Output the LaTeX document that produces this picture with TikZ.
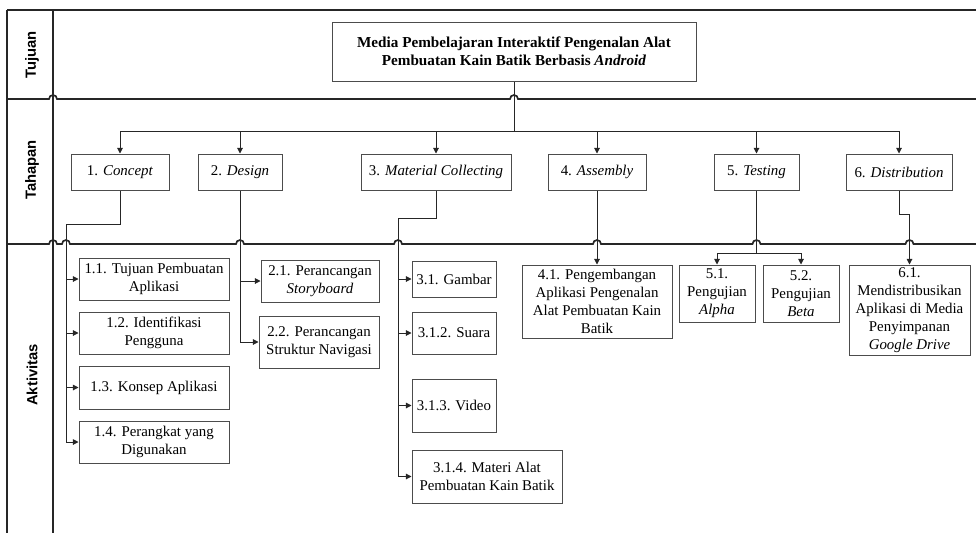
\documentclass[tikz,border=0pt]{standalone}
\usepackage{fontspec}
\setmainfont{Liberation Serif}
\setsansfont{Liberation Sans}
\usetikzlibrary{arrows.meta}
\pgfdeclarelayer{edgelayer}
\pgfdeclarelayer{nodelayer}
\pgfsetlayers{edgelayer,nodelayer,main}
\tikzset{font=\fontsize{10.6}{12.9}\selectfont}
\tikzstyle{none}=[inner sep=0pt]
\tikzstyle{lane}=[rotate=90,font=\sffamily\bfseries\fontsize{10.5}{12}\selectfont]
\tikzstyle{box}=[draw=black!70,rectangle,align=center,inner sep=1pt,line width=0.7pt]
\tikzstyle{goal}=[box,font=\bfseries\fontsize{10.8}{13}\selectfont]
\tikzstyle{phase}=[box,minimum height=0.9cm]
\tikzstyle{wire}=[draw=black!85,line width=0.7pt]
\tikzstyle{arrow}=[wire,-{Triangle[length=4pt,width=4pt]}]
\tikzstyle{border}=[draw=black!85,line width=1.2pt]

\begin{document}
\begin{tikzpicture}
	\useasboundingbox (0, 0) rectangle (24.4, -13.3);
	\begin{pgfonlayer}{nodelayer}
		\node [style=lane] (0) at (0.8, -1.38) {Tujuan};
		\node [style=lane] (1) at (0.8, -4.25) {Tahapan};
		\node [style=lane] (2) at (0.8, -9.375) {Aktivitas};
		\node [style=goal, minimum width=9.1cm, minimum height=1.475cm] (3) at (12.85, -1.2875) {Media Pembelajaran Interaktif Pengenalan Alat\\Pembuatan Kain Batik Berbasis \textit{Android}};
		\node [style=phase, minimum width=2.45cm] (4) at (3, -4.3) {1. \textit{Concept}};
		\node [style=phase, minimum width=2.1cm] (5) at (6, -4.3) {2. \textit{Design}};
		\node [style=phase, minimum width=3.75cm] (6) at (10.9, -4.3) {3. \textit{Material Collecting}};
		\node [style=phase, minimum width=2.45cm] (7) at (14.925, -4.3) {4. \textit{Assembly}};
		\node [style=phase, minimum width=2.125cm] (8) at (18.9125, -4.3) {5. \textit{Testing}};
		\node [style=phase, minimum width=2.65cm] (9) at (22.475, -4.3) {6. \textit{Distribution}};
		\node [style=box, minimum width=3.75cm, minimum height=1.05cm] (10) at (3.85, -6.975) {1.1. Tujuan Pembuatan\\Aplikasi};
		\node [style=box, minimum width=3.75cm, minimum height=1.05cm] (11) at (3.85, -8.325) {1.2. Identifikasi\\Pengguna};
		\node [style=box, minimum width=3.75cm, minimum height=1.075cm] (12) at (3.85, -9.6875) {1.3. Konsep Aplikasi};
		\node [style=box, minimum width=3.75cm, minimum height=1.05cm] (13) at (3.85, -11.05) {1.4. Perangkat yang\\Digunakan};
		\node [style=box, minimum width=2.95cm, minimum height=1.05cm] (14) at (8, -7.025) {2.1. Perancangan\\\textit{Storyboard}};
		\node [style=box, minimum width=3cm, minimum height=1.3cm] (15) at (7.975, -8.55) {2.2. Perancangan\\Struktur Navigasi};
		\node [style=box, minimum width=2.1cm, minimum height=0.9cm] (16) at (11.35, -6.975) {3.1. Gambar};
		\node [style=box, minimum width=2.1cm, minimum height=1.05cm] (17) at (11.35, -8.325) {3.1.2. Suara};
		\node [style=box, minimum width=2.1cm, minimum height=1.325cm] (18) at (11.35, -10.1375) {3.1.3. Video};
		\node [style=box, minimum width=3.75cm, minimum height=1.325cm] (19) at (12.175, -11.9125) {3.1.4. Materi Alat\\Pembuatan Kain Batik};
		\node [style=box, minimum width=3.75cm, minimum height=1.825cm] (20) at (14.925, -7.5375) {4.1. Pengembangan\\Aplikasi Pengenalan\\Alat Pembuatan Kain\\Batik};
		\node [style=box, minimum width=1.9cm, minimum height=1.425cm] (21) at (17.925, -7.3375) {5.1.\\Pengujian\\\textit{Alpha}};
		\node [style=box, minimum width=1.9cm, minimum height=1.425cm] (22) at (20.025, -7.3375) {5.2.\\Pengujian\\\textit{Beta}};
		\node [style=box, minimum width=3.025cm, minimum height=2.25cm] (23) at (22.7375, -7.75) {6.1.\\Mendistribusikan\\Aplikasi di Media\\Penyimpanan\\\textit{Google Drive}};
		\node [style=none] (24) at (3, -5.6) {};
		\node [style=none] (25) at (1.65, -5.6) {};
		\node [style=none] (26) at (1.65, -11.05) {};
		\node [style=none] (27) at (3, -3.275) {};
		\node [style=none] (28) at (22.475, -3.275) {};
		\node [style=none] (29) at (10.9, -5.45) {};
		\node [style=none] (30) at (9.95, -5.45) {};
		\node [style=none] (31) at (18.9125, -6.325) {};
		\node [style=none] (32) at (22.475, -5.35) {};
		\node [style=none] (33) at (22.7375, -5.35) {};
	\end{pgfonlayer}
	\begin{pgfonlayer}{edgelayer}
		\draw [style=border] (0.175, -0.25) to (24.4, -0.25);
		\draw [style=border] (0.175, -0.25) to (0.175, -13.4);
		\draw [style=border] (1.325, -0.25) to (1.325, -13.4);
		\draw [style=border] (0.175, -2.475) -- (1.225, -2.475) arc[start angle=180, end angle=0, radius=0.1]
			-- (12.75, -2.475) arc[start angle=180, end angle=0, radius=0.1] -- (24.4, -2.475);
		\draw [style=border] (0.175, -6.1) -- (1.225, -6.1) arc[start angle=180, end angle=0, radius=0.1]
			-- (1.55, -6.1) arc[start angle=180, end angle=0, radius=0.1]
			-- (5.9, -6.1) arc[start angle=180, end angle=0, radius=0.1]
			-- (9.85, -6.1) arc[start angle=180, end angle=0, radius=0.1]
			-- (14.825, -6.1) arc[start angle=180, end angle=0, radius=0.1]
			-- (18.8125, -6.1) arc[start angle=180, end angle=0, radius=0.1]
			-- (22.6375, -6.1) arc[start angle=180, end angle=0, radius=0.1] -- (24.4, -6.1);
		\draw [style=wire] (3.south) to (3.south |- 27.center);
		\draw [style=wire] (27.center) to (28.center);
		\foreach \n in {4,...,9}
			\draw [style=arrow] (\n.north |- 27.center) to (\n.north);
		\draw [style=wire] (4.south) to (24.center) to (25.center) to (26.center);
		\foreach \n in {10,11,12,13}
			\draw [style=arrow] (25.center |- \n.west) to (\n.west);
		\draw [style=wire] (5.south) to (5.south |- 15.west);
		\foreach \n in {14,15}
			\draw [style=arrow] (5.south |- \n.west) to (\n.west);
		\draw [style=wire] (6.south) to (29.center) to (30.center) to (30.center |- 19.west);
		\foreach \n in {16,17,18,19}
			\draw [style=arrow] (30.center |- \n.west) to (\n.west);
		\draw [style=arrow] (7.south) to (20.north);
		\draw [style=wire] (8.south) to (31.center);
		\draw [style=wire] (21.north |- 31.center) to (22.north |- 31.center);
		\foreach \n in {21,22}
			\draw [style=arrow] (\n.north |- 31.center) to (\n.north);
		\draw [style=wire] (9.south) to (32.center) to (33.center);
		\draw [style=arrow] (33.center) to (23.north);
	\end{pgfonlayer}
\end{tikzpicture}
\end{document}
